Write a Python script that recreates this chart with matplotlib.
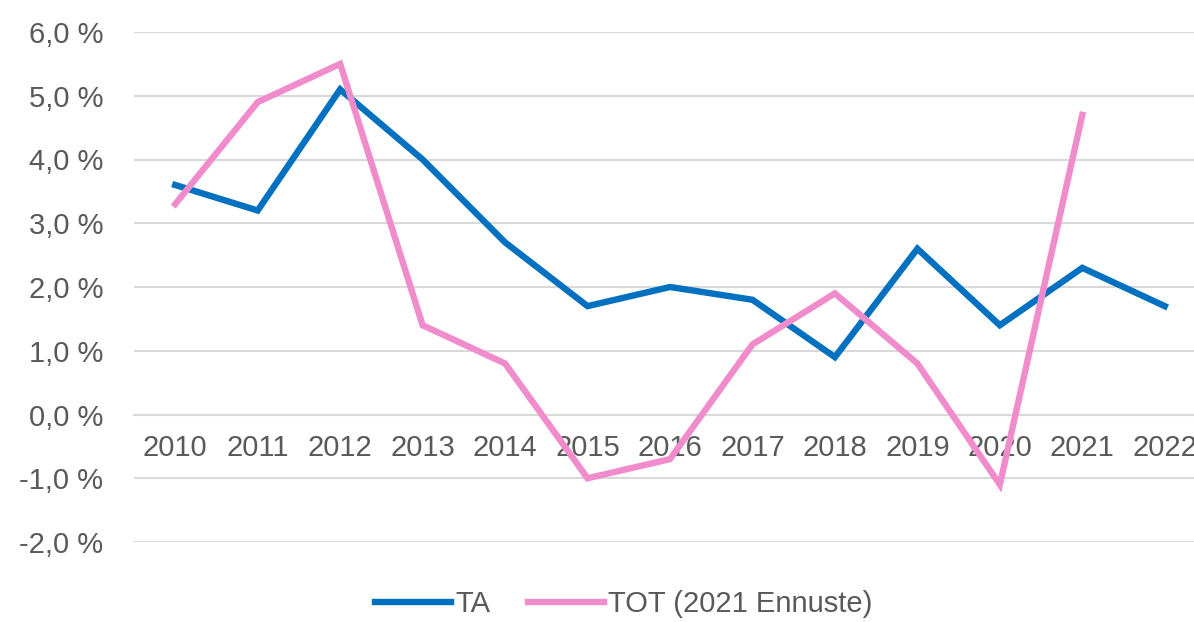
import matplotlib.pyplot as plt
from matplotlib.ticker import FuncFormatter

plt.rcParams['font.family'] = ['Liberation Sans', 'DejaVu Sans']

years = ["2010", "2011", "2012", "2013", "2014", "2015", "2016",
         "2017", "2018", "2019", "2020", "2021", "2022"]
ta = [3.6, 3.2, 5.1, 4.0, 2.7, 1.7, 2.0, 1.8, 0.9, 2.6, 1.4, 2.3, 1.7]
tot = [3.3, 4.9, 5.5, 1.4, 0.8, -1.0, -0.7, 1.1, 1.9, 0.8, -1.1, 4.7]

text_col = "#595959"
grid_col = "#d9d9d9"

fig = plt.figure(figsize=(11.94, 6.22), dpi=100)
ax = fig.add_axes([134 / 1194, 1 - 542 / 622, (1206 - 134) / 1194, 510 / 622])

ax.plot(range(len(ta)), ta, color="#0070C0", lw=4.6, label="TA",
        solid_joinstyle="miter", zorder=3, clip_on=False)
ax.plot(range(len(tot)), tot, color="#F08CCB", lw=4.6, label="TOT (2021 Ennuste)",
        solid_joinstyle="miter", zorder=3, clip_on=False)

ax.set_xlim(-0.5, 12.5)
ax.set_ylim(-2, 6)
ax.set_yticks(range(-2, 7))
ax.yaxis.set_major_formatter(FuncFormatter(lambda v, p: f"{v:.1f}".replace(".", ",") + " %"))
ax.set_xticks(range(len(years)))
ax.set_xticklabels(years)

ax.grid(axis="y", color=grid_col, lw=1.5)
for s in ["top", "right", "left"]:
    ax.spines[s].set_visible(False)
ax.spines["bottom"].set_position(("data", 0))
ax.spines["bottom"].set_color(grid_col)
ax.spines["bottom"].set_linewidth(1.5)
ax.tick_params(axis="both", length=0, labelsize=21, colors=text_col)
ax.tick_params(axis="x", pad=14)
ax.tick_params(axis="y", pad=22)

leg = fig.legend(loc="center", bbox_to_anchor=(624 / 1194, 1 - 604 / 622), ncol=2,
                 frameon=False, fontsize=21, handlelength=2.6, handletextpad=0.15,
                 columnspacing=1.3)
for t in leg.get_texts():
    t.set_color(text_col)

fig.savefig("out.png", dpi=100)
